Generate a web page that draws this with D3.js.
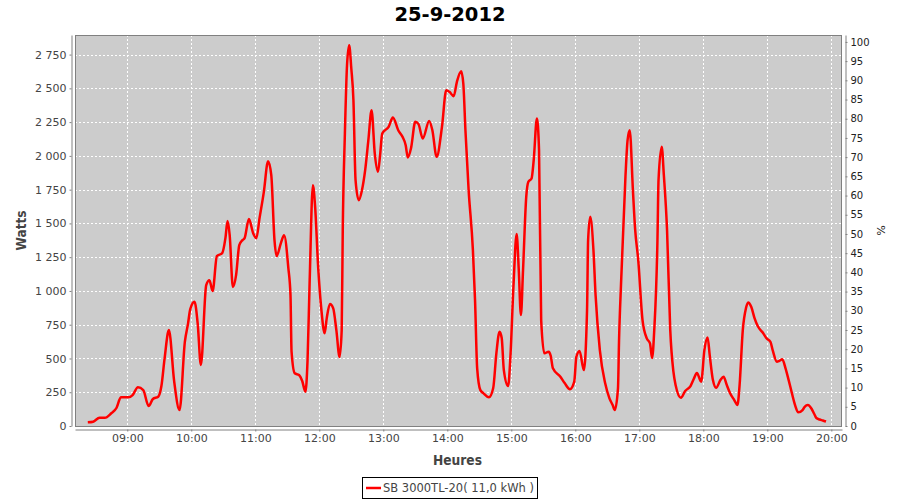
<!DOCTYPE html>
<html>
<head>
<meta charset="utf-8">
<script src="https://cdn.jsdelivr.net/npm/d3@7/dist/d3.min.js"></script>
<style>
  html, body { margin: 0; padding: 0; background: #ffffff; }
  svg { display: block; }
  text { font-family: "DejaVu Sans", sans-serif; }
</style>
</head>
<body>
<svg id="chart" width="900" height="500"></svg>
<script>
// ---- Data ----
const chartTitle = "25-9-2012";
const seriesName = "SB 3000TL-20( 11,0 kWh )";
const times = [
  "08:23","08:28","08:34","08:39","08:45","08:50","08:54","09:01","09:05","09:10",
  "09:15","09:20","09:24","09:29","09:32","09:35","09:39","09:44","09:49","09:54",
  "09:57","09:59","10:03","10:06","10:09","10:14","10:17","10:20","10:24","10:29",
  "10:32","10:34","10:36","10:39","10:42","10:45","10:48","10:50","10:54","10:58",
  "11:01","11:04","11:08","11:12","11:15","11:18","11:20","11:24","11:27","11:31",
  "11:33","11:34","11:37","11:41","11:44","11:47","11:49","11:51","11:54","11:56",
  "11:59","12:02","12:05","12:07","12:10","12:13","12:16","12:19","12:21","12:22",
  "12:24","12:26","12:28","12:30","12:32","12:34","12:37","12:40","12:43","12:46",
  "12:49","12:52","12:55","12:57","12:59","13:05","13:09","13:14","13:18","13:21",
  "13:23","13:26","13:30","13:33","13:37","13:43","13:46","13:50","13:55","13:59",
  "14:02","14:06","14:09","14:13","14:15","14:17","14:20","14:24","14:26","14:28",
  "14:31","14:34","14:39","14:43","14:46","14:49","14:51","14:53","14:57","14:59",
  "15:02","15:05","15:07","15:09","15:11","15:14","15:16","15:19","15:21","15:24",
  "15:26","15:28","15:31","15:35","15:37","15:39","15:46","15:50","15:55","15:59",
  "16:01","16:04","16:08","16:11","16:12","16:14","16:17","16:19","16:23","16:28",
  "16:32","16:35","16:37","16:40","16:41","16:43","16:47","16:49","16:51","16:54",
  "16:56","16:59","17:03","17:07","17:10","17:12","17:14","17:17","17:18","17:21",
  "17:23","17:26","17:29","17:32","17:34","17:39","17:43","17:48","17:51","17:54",
  "17:58","18:01","18:04","18:06","18:09","18:12","18:16","18:19","18:22","18:25",
  "18:29","18:32","18:34","18:37","18:40","18:42","18:45","18:48","18:51","18:56",
  "18:59","19:03","19:05","19:09","19:11","19:14","19:17","19:20","19:23","19:26",
  "19:29","19:33","19:35","19:38","19:41","19:44","19:46","19:49","19:52","19:55"
];
const watts = [
  27,32,61,61,94,135,212,212,229,286,
  266,148,200,217,296,501,710,328,118,624,
  760,864,920,760,451,1043,1080,999,1258,1280,
  1391,1517,1413,1029,1117,1339,1376,1391,1532,1428,
  1391,1539,1732,1961,1857,1376,1258,1354,1413,1169,
  969,550,390,377,333,254,488,1080,1783,1635,
  1169,858,686,799,903,873,710,511,710,1450,
  2166,2671,2819,2649,2412,1820,1672,1746,1894,2116,
  2338,2018,1882,2005,2166,2215,2284,2190,2141,2079,
  1988,2057,2252,2235,2129,2259,2190,1993,2215,2486,
  2474,2442,2548,2627,2536,2190,1746,1302,932,427,
  266,242,212,279,538,698,651,414,296,488,
  1031,1421,1154,821,1154,1697,1808,1833,1968,2277,
  2042,784,538,550,518,427,365,318,272,328,
  513,555,414,858,1376,1549,1302,969,562,316,
  205,155,118,279,636,1080,1845,2116,2190,1746,
  1465,1228,784,649,612,503,710,1376,1820,2067,
  1857,1450,710,400,303,209,259,296,348,392,
  328,562,656,525,340,283,340,365,303,244,
  192,155,303,710,873,915,881,799,740,688,
  651,622,562,476,481,494,429,340,244,155,
  101,118,141,155,133,89,59,48,41,33
];
const wattTicks = [0,250,500,750,1000,1250,1500,1750,2000,2250,2500,2750];
const percentTicks = [0,5,10,15,20,25,30,35,40,45,50,55,60,65,70,75,80,85,90,95,100];
const hourTicks = ["09:00","10:00","11:00","12:00","13:00","14:00","15:00","16:00","17:00","18:00","19:00","20:00"];
const xRange = ["08:11","20:10"];
const wattMax = 2895;
const percentMax = 101.8;
const yLabel = "Watts";
const y2Label = "%";
const xLabel = "Heures";

// ---- Layout ----
const plot = { left: 75, right: 842, top: 35, bottom: 426 };
const svg = d3.select("#chart");
const parseT = d3.timeParse("%Y-%m-%d %H:%M");
const toDate = s => parseT("2012-09-25 " + s);

const x = d3.scaleTime().domain(xRange.map(toDate)).range([plot.left, plot.right]);
const y = d3.scaleLinear().domain([0, wattMax]).range([plot.bottom, plot.top]);
const y2 = d3.scaleLinear().domain([0, percentMax]).range([plot.bottom, plot.top]);

const data = times.map((t, i) => ({ t: toDate(t), v: watts[i] }));

// Title
svg.append("text")
  .attr("x", 450).attr("y", 21)
  .attr("text-anchor", "middle")
  .style("font-size", "19.5px").style("font-weight", "bold").attr("fill", "#000")
  .text(chartTitle);

// Plot background
svg.append("rect")
  .attr("x", plot.left).attr("y", plot.top)
  .attr("width", plot.right - plot.left).attr("height", plot.bottom - plot.top)
  .attr("fill", "#cccccc");

// Gridlines
const grid = svg.append("g").attr("stroke", "#ffffff").attr("stroke-width", 1)
  .attr("stroke-dasharray", "2,2").attr("shape-rendering", "crispEdges");
grid.selectAll("line.h").data(wattTicks.filter(d => d > 0)).join("line")
  .attr("x1", plot.left).attr("x2", plot.right)
  .attr("y1", d => Math.round(y(d)) + 0.5).attr("y2", d => Math.round(y(d)) + 0.5);
grid.selectAll("line.v").data(hourTicks.map(toDate)).join("line")
  .attr("y1", plot.top).attr("y2", plot.bottom)
  .attr("x1", d => Math.round(x(d)) + 0.5).attr("x2", d => Math.round(x(d)) + 0.5);

// Plot outline
svg.append("rect")
  .attr("x", plot.left + 0.5).attr("y", plot.top + 0.5)
  .attr("width", plot.right - plot.left - 1).attr("height", plot.bottom - plot.top)
  .attr("fill", "none").attr("stroke", "#808080").attr("stroke-width", 1);

// Line
const line = d3.line().x(d => x(d.t)).y(d => y(d.v)).curve(d3.curveMonotoneX);
svg.append("path").datum(data)
  .attr("d", line)
  .attr("fill", "none").attr("stroke", "#ff0000")
  .attr("stroke-width", 2.5).attr("stroke-linejoin", "round");

// Axes
const fr = d3.formatLocale({ decimal: ",", thousands: " ", grouping: [3], currency: ["", ""] });
const fmtW = fr.format(",d");

function styleAxis(g, fontSize, color) {
  g.selectAll(".domain").attr("stroke", "#808080");
  g.selectAll(".tick line").attr("stroke", "#808080");
  g.selectAll(".tick text").style("font-size", fontSize).attr("fill", color);
}

const gy = svg.append("g").attr("transform", `translate(${plot.left - 3.5},0)`)
  .call(d3.axisLeft(y).tickValues(wattTicks).tickFormat(fmtW).tickSize(2).tickSizeOuter(0).tickPadding(3));
styleAxis(gy, "11px", "#444444");

const gy2 = svg.append("g").attr("transform", `translate(${plot.right + 3.5},0)`)
  .call(d3.axisRight(y2).tickValues(percentTicks).tickSize(2).tickSizeOuter(0).tickPadding(3));
styleAxis(gy2, "10px", "#222222");

const gx = svg.append("g").attr("transform", `translate(0,${plot.bottom + 3.5})`)
  .call(d3.axisBottom(x).tickValues(hourTicks.map(toDate)).tickFormat(d3.timeFormat("%H:%M"))
    .tickSize(2).tickSizeOuter(0).tickPadding(3));
styleAxis(gx, "11px", "#444444");

// Axis labels
svg.append("text")
  .attr("transform", `translate(26,${(plot.top + plot.bottom) / 2}) rotate(-90)`)
  .attr("text-anchor", "middle")
  .attr("textLength", 40).attr("lengthAdjust", "spacingAndGlyphs")
  .style("font-size", "14px").style("font-weight", "bold").attr("fill", "#444444")
  .text(yLabel);

svg.append("text")
  .attr("transform", `translate(877,${(plot.top + plot.bottom) / 2}) rotate(90)`)
  .attr("text-anchor", "middle")
  .style("font-size", "11px").attr("fill", "#222222")
  .text(y2Label);

svg.append("text")
  .attr("x", (plot.left + plot.right) / 2 - 1).attr("y", 465)
  .attr("text-anchor", "middle")
  .attr("textLength", 49).attr("lengthAdjust", "spacingAndGlyphs")
  .style("font-size", "14px").style("font-weight", "bold").attr("fill", "#444444")
  .text(xLabel);

// Legend
const leg = svg.append("g");
leg.append("rect")
  .attr("x", 362.5).attr("y", 477.5).attr("width", 175).attr("height", 21)
  .attr("fill", "#ffffff").attr("stroke", "#000000").attr("stroke-width", 1);
leg.append("line")
  .attr("x1", 366).attr("x2", 381).attr("y1", 488).attr("y2", 488)
  .attr("stroke", "#ff0000").attr("stroke-width", 2.5);
leg.append("text")
  .attr("x", 383).attr("y", 492)
  .attr("textLength", 151).attr("lengthAdjust", "spacingAndGlyphs")
  .style("font-size", "12px").attr("fill", "#444444")
  .text(seriesName);
</script>
</body>
</html>
